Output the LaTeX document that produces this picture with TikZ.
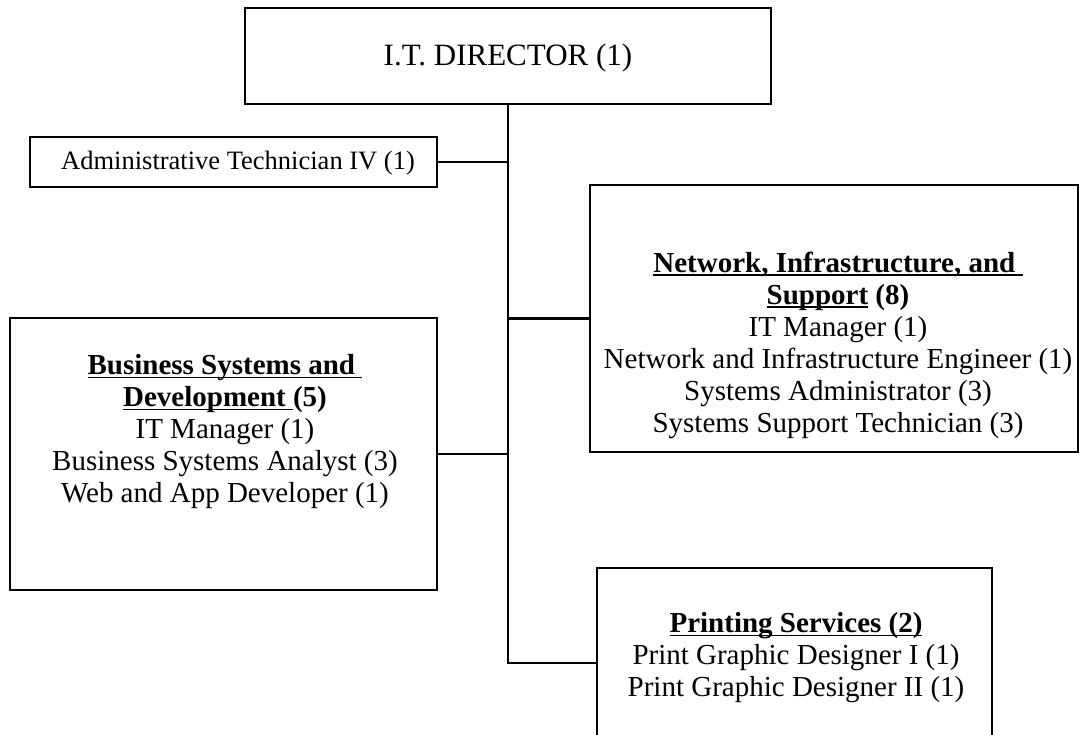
\documentclass[tikz,border=0pt]{standalone}
\usepackage{fontspec}
\setmainfont{Liberation Serif}
\newcommand\myul[1]{\setbox0\hbox{#1}\rlap{\rule[-3.5pt]{\wd0}{1.6pt}}\box0\relax}
\begin{document}
\begin{tikzpicture}[x=1pt,y=-1pt,
  box/.style={draw=black, line width=1.8pt, inner sep=0pt, fill=white},
  txt/.style={align=center, inner sep=0pt, font=\fontsize{29}{32}\selectfont},
  conn/.style={draw=black, line width=2.4pt}]
\useasboundingbox (0,0) rectangle (1079,735);
\clip (0,0) rectangle (1079,735);
\fill[white] (0,0) rectangle (1079,735);
% boxes
\node[box, minimum width=526, minimum height=96] (dir) at (508,56) {};
\node[box, minimum width=407, minimum height=50] (adm) at (233.5,162) {};
\node[box, minimum width=488, minimum height=267] (net) at (834,318.5) {};
\node[box, minimum width=427, minimum height=272] (bus) at (223.5,454) {};
\node[box, minimum width=395, minimum height=190] (prt) at (794.5,663) {};
% texts
\node[txt, font=\fontsize{31}{34}\selectfont] (dirt) at (508,58) {I.T. DIRECTOR (1)};
\node[txt, font=\fontsize{26.5}{30}\selectfont] (admt) at (238,163) {Administrative Technician IV (1)};
\node[txt] (nett) at (838,345) {\textbf{\myul{Network, Infrastructure, and\ }}\\
  \textbf{\myul{Support} (8)}\\
  IT Manager (1)\\
  Network and Infrastructure Engineer (1)\\
  Systems Administrator (3)\\
  Systems Support Technician (3)};
\node[txt] (bust) at (225,432) {\textbf{\myul{Business Systems and\ }}\\
  \textbf{\myul{Development\ }(5)}\\
  IT Manager (1)\\
  Business Systems Analyst (3)\\
  Web and App Developer (1)};
\node[txt] (prtt) at (796,658) {\textbf{\myul{Printing Services (2)}}\\
  Print Graphic Designer I (1)\\
  Print Graphic Designer II (1)};
% connectors
\coordinate (elbow) at (dir.south |- prt.west);
\draw[conn] (dir.south) -- (elbow) -- (prt.west);
\draw[conn] (adm.east) -- (adm.east -| dir.south);
\draw[conn] (net.west) -- (net.west -| dir.south);
\draw[conn] (bus.east) -- (bus.east -| dir.south);
\end{tikzpicture}
\end{document}
